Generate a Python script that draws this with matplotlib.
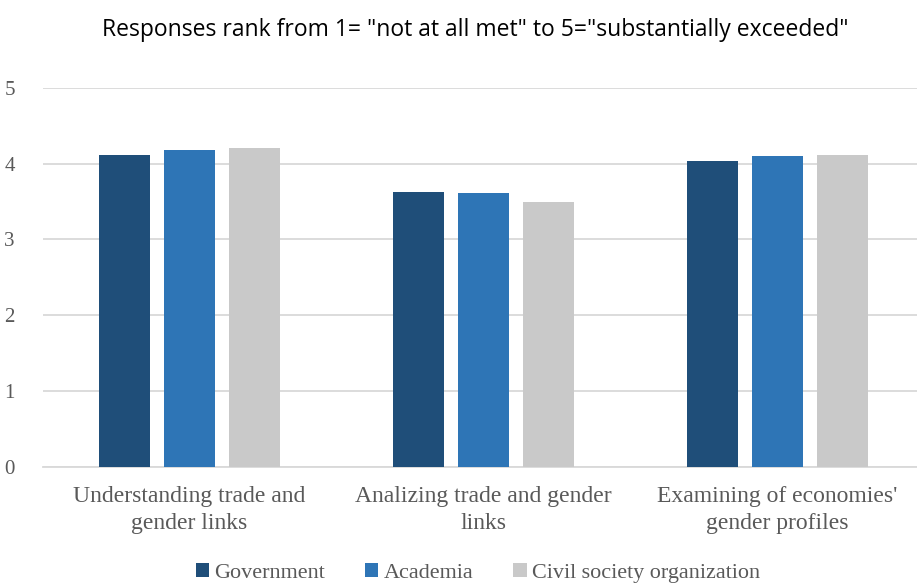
import matplotlib.pyplot as plt
import numpy as np

# --- Data ---
categories = ["Understanding trade and\ngender links",
              "Analizing trade and gender\nlinks",
              "Examining of economies'\ngender profiles"]
series_names = ["Government", "Academia", "Civil society organization"]
government = [4.11, 3.63, 4.04]
academia = [4.18, 3.61, 4.10]
civil_society = [4.21, 3.50, 4.11]
y_ticks = [0, 1, 2, 3, 4, 5]

colors = ["#1F4E79", "#2E75B6", "#C9C9C9"]
serif = ["Liberation Serif", "DejaVu Serif"]
text_gray = "#595959"
grid_gray = "#D9D9D9"

W, H = 917, 585
fig = plt.figure(figsize=(W / 100, H / 100), dpi=100)
left, right = 42.5, 924.5
bottom, top = 466.7, 88
ax = fig.add_axes([left / W, 1 - bottom / H, (right - left) / W, (bottom - top) / H])

x = np.arange(len(categories))
width = 0.174
pitch = 0.221
for i, (name, vals) in enumerate(zip(series_names, [government, academia, civil_society])):
    ax.bar(x + (i - 1) * pitch, vals, width, color=colors[i], label=name, zorder=3)

ax.set_xlim(-0.5, len(categories) - 0.5)
ax.set_ylim(0, 5)
ax.set_yticks(y_ticks)
ax.set_yticklabels([str(t) for t in y_ticks], family=serif, fontsize=15, color=text_gray)
ax.set_xticks(x)
ax.set_xticklabels(categories, family=serif, fontsize=17, color=text_gray, linespacing=1.35)
ax.tick_params(axis="both", length=0)
ax.tick_params(axis="y", pad=20)
ax.tick_params(axis="x", pad=14)

ax.grid(axis="y", color=grid_gray, linewidth=1.3, zorder=0)
for s in ["top", "right", "left"]:
    ax.spines[s].set_visible(False)
ax.spines["bottom"].set_color(grid_gray)
ax.spines["bottom"].set_linewidth(1.3)

fig.text(475 / W, 1 - 30 / H, 'Responses rank from 1= "not at all met" to 5="substantially exceeded"',
         ha="center", va="center", fontsize=16.5, family=["Open Sans", "DejaVu Sans"], color="black")

leg = fig.legend(loc="center", bbox_to_anchor=(478 / W, 1 - 573 / H), ncol=3, frameon=False,
                 prop={"family": serif, "size": 15.9}, handlelength=0.6, handleheight=0.6,
                 handletextpad=0.25, columnspacing=1.8)
for t in leg.get_texts():
    t.set_color(text_gray)

fig.savefig("out.png", dpi=100)
